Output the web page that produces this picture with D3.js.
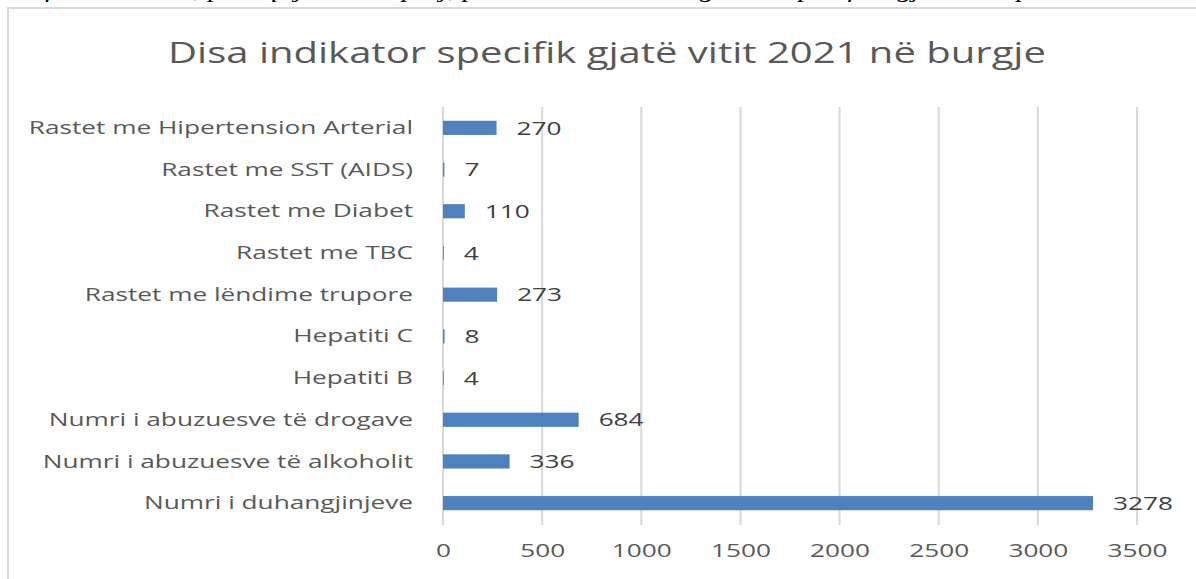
<!DOCTYPE html>
<html>
<head>
<meta charset="utf-8">
<script src="https://cdn.jsdelivr.net/npm/d3@7"></script>
<style>
  body { margin: 0; background: #fff; }
  svg { display: block; }
</style>
</head>
<body>
<div id="chart"></div>
<script>
// categories top -> bottom, as in the picture
const categories = [
  "Rastet me Hipertension Arterial",
  "Rastet me SST (AIDS)",
  "Rastet me Diabet",
  "Rastet me TBC",
  "Rastet me lëndime trupore",
  "Hepatiti C",
  "Hepatiti B",
  "Numri i abuzuesve të drogave",
  "Numri i abuzuesve të alkoholit",
  "Numri i duhangjinjeve"
];
const values = [270, 7, 110, 4, 273, 8, 4, 684, 336, 3278];
const xTicks = [0, 500, 1000, 1500, 2000, 2500, 3000, 3500];
const title = "Disa indikator specifik gjatë vitit 2021 në burgje";
const caption = "Grafiku numër 3, paraqitja e disa prej, përkatësisht disa treguesve specifikë gjatë vitit përkatës";

const W = 1196, H = 579;
const font = "'Open Sans', 'DejaVu Sans', sans-serif";
const sx = 1.38; // the source picture is stretched sideways

const svg = d3.select("#chart").append("svg")
  .attr("width", W)
  .attr("height", H);

// cropped caption line above the chart
svg.append("text")
  .attr("transform", `translate(-2,-3) scale(1.4,1)`)
  .attr("font-family", "'Liberation Serif', serif")
  .attr("font-style", "italic")
  .attr("font-size", 21)
  .attr("fill", "#000")
  .text(caption);

// chart frame
svg.append("rect")
  .attr("x", 8)
  .attr("y", 8)
  .attr("width", W + 20)
  .attr("height", H + 20)
  .attr("fill", "none")
  .attr("stroke", "#d9d9d9")
  .attr("stroke-width", 2);

svg.append("text")
  .attr("transform", `translate(607,63) scale(${sx},1)`)
  .attr("text-anchor", "middle")
  .attr("font-family", font)
  .attr("font-size", 29)
  .attr("fill", "#595959")
  .text(title);

const x = d3.scaleLinear().domain([0, 3500]).range([443, 1137]);
const y = d3.scaleBand().domain(categories).range([107, 524]).paddingInner(0.66).paddingOuter(0.33);

// gridlines
svg.append("g")
  .selectAll("line")
  .data(xTicks)
  .join("line")
  .attr("x1", d => x(d))
  .attr("x2", d => x(d))
  .attr("y1", 107)
  .attr("y2", 525)
  .attr("stroke", "#d9d9d9")
  .attr("stroke-width", 2);

// x axis labels
const xAxis = svg.append("g")
  .attr("transform", "translate(0,525)")
  .call(d3.axisBottom(x).tickValues(xTicks).tickSize(0).tickPadding(19).tickFormat(d3.format("d")));
xAxis.select(".domain").remove();
xAxis.selectAll("text")
  .attr("transform", `scale(${sx},1)`)
  .attr("font-family", font)
  .attr("font-size", 19)
  .attr("fill", "#595959");

// category labels
const yAxis = svg.append("g")
  .attr("transform", "translate(443,0)")
  .call(d3.axisLeft(y).tickSize(0).tickPadding(30));
yAxis.select(".domain").remove();
yAxis.selectAll("text")
  .attr("x", -30 / sx)
  .attr("transform", `scale(${sx},1)`)
  .attr("font-family", font)
  .attr("font-size", 19)
  .attr("fill", "#595959");

// bars
svg.append("g")
  .selectAll("rect")
  .data(values)
  .join("rect")
  .attr("x", x(0))
  .attr("y", (d, i) => y(categories[i]))
  .attr("width", d => x(d) - x(0))
  .attr("height", y.bandwidth())
  .attr("fill", "#4f81bd");

// value labels
svg.append("g")
  .selectAll("text")
  .data(values)
  .join("text")
  .attr("transform", (d, i) => `translate(${x(d) + 20},${y(categories[i]) + y.bandwidth() / 2}) scale(${sx},1)`)
  .attr("dy", "0.35em")
  .attr("font-family", font)
  .attr("font-size", 19)
  .attr("fill", "#404040")
  .text(d => d);
</script>
</body>
</html>
